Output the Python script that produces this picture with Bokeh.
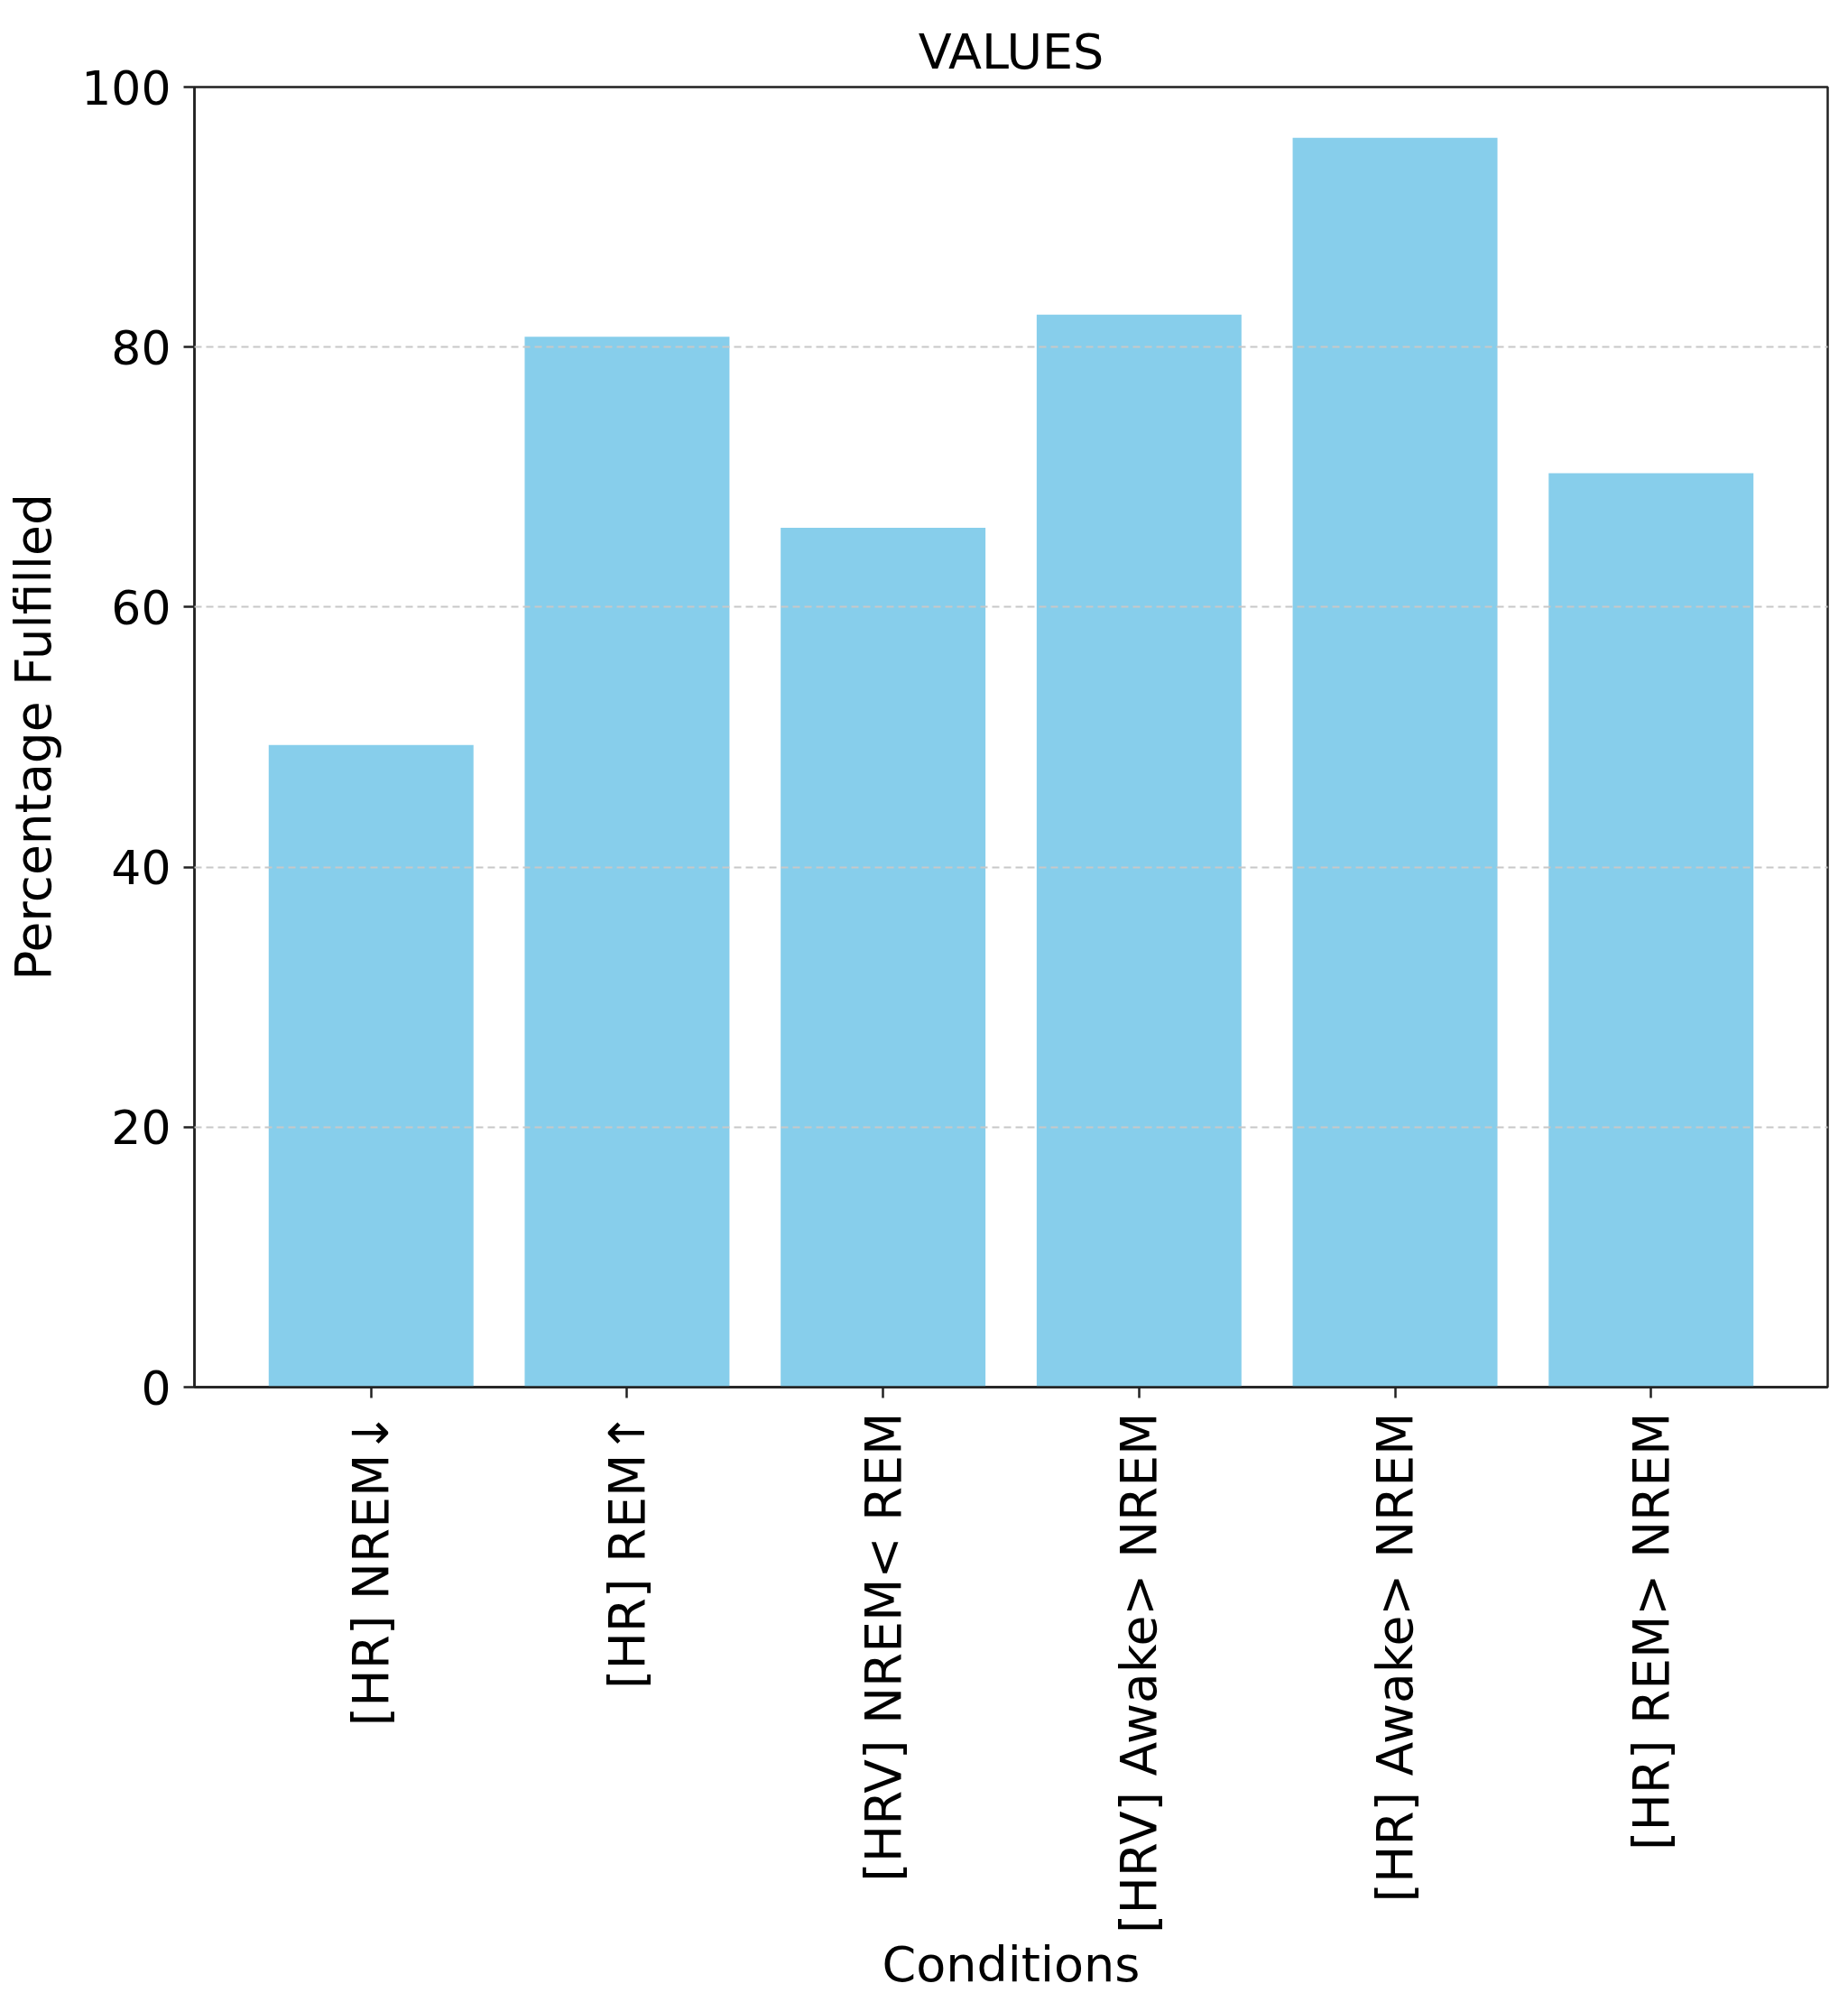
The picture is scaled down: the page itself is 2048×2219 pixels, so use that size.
from bokeh.plotting import figure
from bokeh.models import FactorRange, Range1d, ColumnDataSource, FixedTicker
from bokeh.embed import file_html
from bokeh.resources import INLINE
import math

conditions = ["[HR] NREM\u2193", "[HR] REM\u2191", "[HRV] NREM< REM",
              "[HRV] Awake> NREM", "[HR] Awake> NREM", "[HR] REM> NREM"]
percentages = [49.4, 80.8, 66.1, 82.5, 96.1, 70.3]
y_ticks = [0, 20, 40, 60, 80, 100]

FONT = "DejaVu Sans"

src = ColumnDataSource(dict(cond=conditions, pct=percentages))

p = figure(
    width=2032, height=2215,
    x_range=FactorRange(*conditions, range_padding=0.19, range_padding_units="absolute"),
    y_range=Range1d(0, 100),
    output_backend="svg", toolbar_location=None,
    title="VALUES",
    min_border_left=215, min_border_right=7,
    min_border_top=96, min_border_bottom=678,
)

p.vbar(x="cond", top="pct", width=0.8, source=src,
       fill_color="#87CEEB", line_color=None)

p.title.align = "center"
p.title.text_font = FONT
p.title.text_font_size = "54px"
p.title.text_font_style = "normal"
p.title.text_color = "black"
p.title.standoff = 16

p.xgrid.visible = False
p.ygrid.grid_line_color = "#c8c8c8"
p.ygrid.grid_line_dash = "8 5"
p.ygrid.grid_line_width = 2
p.ygrid.level = "annotation"
p.ygrid.ticker = FixedTicker(ticks=y_ticks)

p.yaxis.ticker = FixedTicker(ticks=y_ticks)
p.yaxis.axis_label = "Percentage Fulfilled"
p.xaxis.axis_label = "Conditions"

for ax in (p.xaxis[0], p.yaxis[0]):
    ax.axis_label_text_font = FONT
    ax.axis_label_text_font_style = "normal"
    ax.axis_label_text_color = "black"
    ax.major_label_text_font = FONT
    ax.major_label_text_color = "black"
    ax.axis_line_color = "#222222"
    ax.axis_line_width = 2.5
    ax.major_tick_line_color = "#222222"
    ax.major_tick_line_width = 2.5
    ax.major_tick_out = 12
    ax.major_tick_in = 0
    ax.minor_tick_line_color = None

p.yaxis.major_label_text_font_size = "52px"
p.yaxis.axis_label_text_font_size = "55px"
p.yaxis.major_label_standoff = 14
p.yaxis.axis_label_standoff = 18

p.xaxis.major_label_text_font_size = "55px"
p.xaxis.axis_label_text_font_size = "54px"
p.xaxis.major_label_standoff = 16
p.xaxis.axis_label_standoff = 0
p.xaxis.major_label_orientation = math.pi / 2

p.outline_line_color = "#222222"
p.outline_line_width = 2.5
p.background_fill_color = "white"
p.border_fill_color = "white"

open("out.html", "w").write(file_html(p, INLINE))
